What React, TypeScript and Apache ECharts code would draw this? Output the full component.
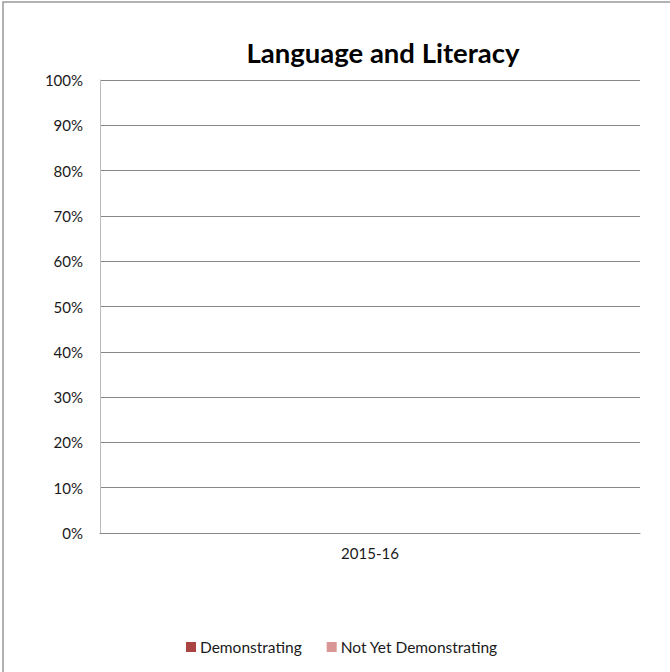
import React, { useEffect, useRef } from "react";
import * as echarts from "echarts";

const categories = ["2015-16"];
const demonstrating: (number | null)[] = [null];
const notYetDemonstrating: (number | null)[] = [null];
const seriesNames = ["Demonstrating", "Not Yet Demonstrating"];
const titleText = "Language and Literacy";

export default function App() {
  const ref = useRef<HTMLDivElement>(null);
  useEffect(() => {
    document.body.style.margin = "0";
    const chart = echarts.init(ref.current!, undefined, { renderer: "svg" });
    const font = "Lato, Open Sans, Liberation Sans, sans-serif";
    chart.setOption({
      animation: false,
      backgroundColor: "#ffffff",
      title: {
        text: titleText,
        left: 378,
        top: 33,
        textAlign: "center",
        textStyle: { fontFamily: font, fontSize: 27.5, fontWeight: "bold", color: "#000000" },
      },
      grid: { left: 100, right: 30, top: 80, bottom: 139, containLabel: false },
      legend: {
        top: 634,
        left: 181,
        itemWidth: 10,
        itemHeight: 10,
        itemGap: 25,
        icon: "rect",
        textStyle: { fontFamily: font, fontSize: 15.5, color: "#1a1a1a", padding: [0, 0, 0, -1] },
        data: seriesNames,
      },
      xAxis: {
        type: "category",
        data: categories,
        axisLine: { lineStyle: { color: "#888888", width: 1 } },
        axisTick: { show: false },
        axisLabel: { fontFamily: font, fontSize: 15, color: "#1a1a1a", margin: 12 },
      },
      yAxis: {
        type: "value",
        min: 0,
        max: 100,
        interval: 10,
        axisLine: { show: true, lineStyle: { color: "#BBBBBB" } },
        axisTick: { show: false },
        splitLine: { lineStyle: { color: "#888888", width: 1 } },
        axisLabel: { fontFamily: font, fontSize: 15, color: "#1a1a1a", margin: 17, formatter: "{value}%" },
      },
      series: [
        {
          name: seriesNames[0],
          type: "bar",
          stack: "total",
          data: demonstrating,
          itemStyle: { color: "#A94442" },
          barWidth: "40%",
        },
        {
          name: seriesNames[1],
          type: "bar",
          stack: "total",
          data: notYetDemonstrating,
          itemStyle: { color: "#D99694" },
          barWidth: "40%",
        },
      ],
      graphic: [
        {
          type: "rect",
          shape: { x: 3, y: 2, width: 700, height: 700 },
          style: { fill: "none", stroke: "#999999", lineWidth: 1.5 },
          silent: true,
        },
      ],
    });
    return () => chart.dispose();
  }, []);
  return <div ref={ref} style={{ width: 670, height: 672 }} />;
}
